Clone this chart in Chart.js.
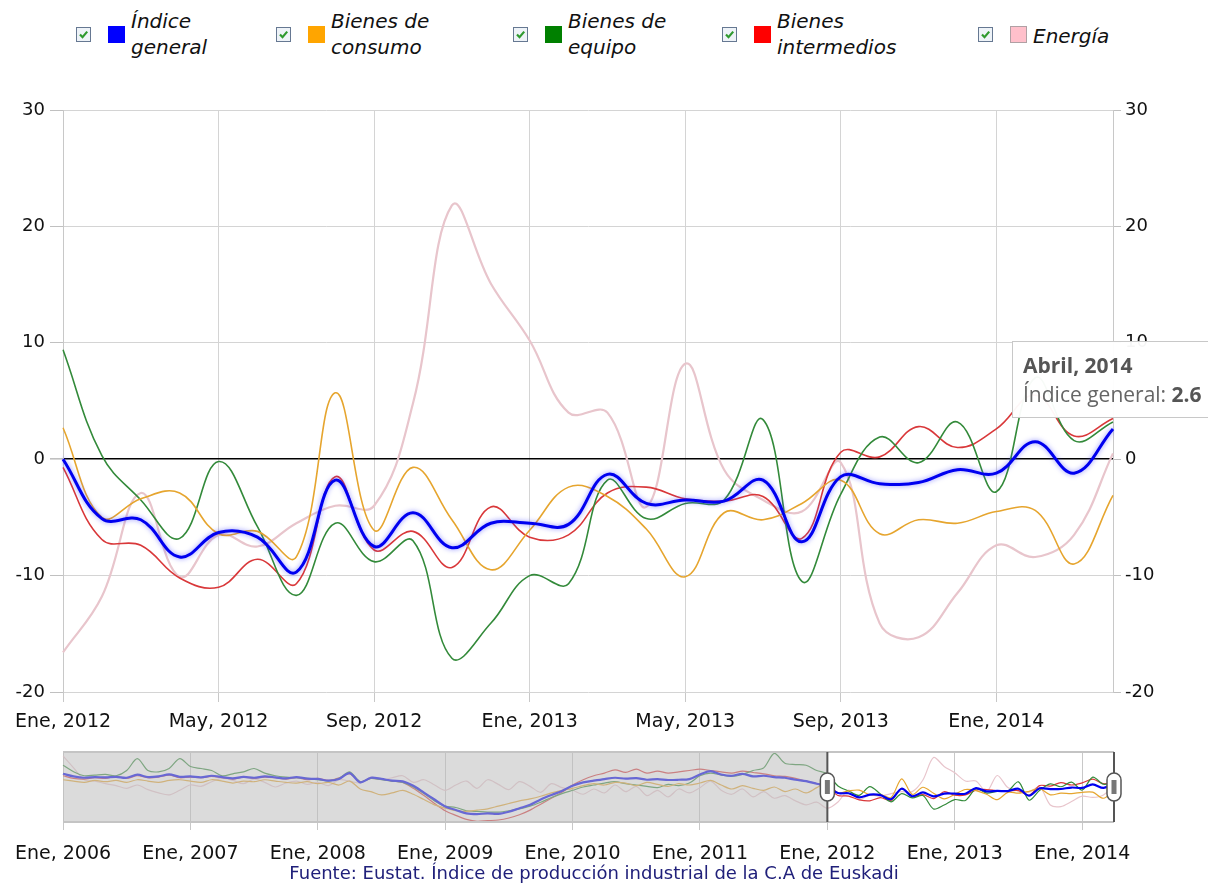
<!DOCTYPE html>
<html>
<head>
<meta charset="utf-8">
<script src="https://cdn.jsdelivr.net/npm/chart.js@4.4.1/dist/chart.umd.min.js"></script>
<style>
body { margin: 0; background: #fff; width: 1208px; height: 894px; overflow: hidden; position: relative; font-family: "DejaVu Sans", sans-serif; }
.item { position: absolute; top: 0; }
.chk { position: absolute; top: 27px; left: 0; width: 13px; height: 13px; border: 1px solid #667892; background: #eef3f8; }
.chk svg { position: absolute; left: 1px; top: 1px; }
.sq { position: absolute; top: 26px; width: 17px; height: 17px; box-sizing: border-box; }
.lbl { position: absolute; top: 8px; font-style: italic; font-size: 20px; line-height: 26px; color: #111; white-space: pre; }
#main { position: absolute; left: 0; top: 90px; }
#nav { position: absolute; left: 0; top: 740px; }
#fuente { position: absolute; left: 0; width: 1188px; top: 862px; text-align: center; font-size: 18px; color: #20207a; }
#tip { position: absolute; display: none; background: rgba(255,255,255,0.96); border: 1px solid #c8c8c8;
       padding: 9px 30px 8px 10px; font-family: "Open Sans", sans-serif; font-size: 21px; line-height: 29px;
       color: #666; white-space: nowrap; }
#tip b { color: #555; }
</style>
</head>
<body>
<div id="legend"></div>
<canvas id="main" width="1208" height="650"></canvas>
<canvas id="nav" width="1208" height="130"></canvas>
<div id="fuente">Fuente: Eustat. Índice de producción industrial de la C.A de Euskadi</div>
<div id="tip"></div>
<script>
// meses
const mesCorto = ['Ene', 'Feb', 'Mar', 'Abr', 'May', 'Jun', 'Jul', 'Ago', 'Sep', 'Oct', 'Nov', 'Dic'];
const mesLargo = ['Enero', 'Febrero', 'Marzo', 'Abril', 'Mayo', 'Junio', 'Julio', 'Agosto', 'Septiembre', 'Octubre', 'Noviembre', 'Diciembre'];

const seriesNames = ['Índice general', 'Bienes de consumo', 'Bienes de equipo', 'Bienes intermedios', 'Energía'];
const legendText = ['Índice\ngeneral', 'Bienes de\nconsumo', 'Bienes de\nequipo', 'Bienes\nintermedios', 'Energía'];
const legendColors = ['#0000ff', '#ffa500', '#008000', '#ff0000', '#ffc0cb'];
const lineColors = ['#0000f0', '#e6a52e', '#338a3a', '#d9383a', '#e8c5cc'];

// Ene 2012 - Abr 2014 (grafico principal)
const general     = [0, -5.1, -5.2, -8.4, -6.3, -6.7, -9.7, -1.8, -7.5, -4.6, -7.6, -5.5, -5.5, -5.6, -1.3, -3.8, -3.5, -3.6, -1.8, -7.1, -1.5, -2.1, -2.0, -0.9, -1.2, 1.5, -1.2, 2.6];
const consumo     = [2.7, -5.0, -3.4, -2.9, -6.4, -6.2, -8.4, 5.7, -6.1, -0.7, -5.2, -9.5, -6.1, -2.4, -3.2, -6.0, -10.1, -4.6, -5.2, -3.8, -1.8, -6.4, -5.2, -5.5, -4.5, -4.4, -9.0, -3.1];
const equipo      = [9.4, 0.3, -3.5, -6.8, -0.2, -5.8, -11.7, -5.5, -8.8, -7.0, -17.1, -14.1, -10.0, -10.7, -1.8, -5.1, -3.8, -3.5, 3.4, -10.5, -3.0, 1.9, -0.3, 3.2, -2.8, 7.0, 1.6, 3.2];
const intermedios = [-0.7, -6.9, -7.4, -10.2, -11.0, -8.6, -10.7, -1.5, -7.8, -6.2, -9.3, -4.1, -6.7, -6.5, -2.9, -2.4, -3.4, -3.6, -3.2, -6.8, 0.6, 0.2, 2.8, 1.0, 2.6, 5.5, 2.0, 3.5];
const energia     = [-16.6, -11.8, -2.9, -10.1, -6.5, -7.5, -5.5, -4.0, -4.0, 4.8, 21.8, 15.1, 10.2, 4.0, 4.0, -4.1, 8.2, -0.9, -3.5, -4.5, -0.3, -14.1, -15.3, -11.5, -7.4, -8.4, -6.5, 0.5];

// Ene 2006 - Dic 2011 (solo navegador)
const histGeneral = [
  9.5, 7.5, 6.5, 7.0, 6.8, 7.2, 6.5, 8.8, 7.0, 7.5, 9.0, 7.2,
  7.5, 6.8, 8.0, 7.0, 6.0, 7.2, 6.5, 7.5, 6.8, 6.0, 7.0, 5.8,
  5.6, 4.3, 5.6, 10.0, 3.0, 6.5, 5.6, 4.3, 3.8, 0.4, -4.8, -10.0,
  -15.3, -17.9, -20.5, -21.0, -20.5, -20.8, -19.2, -16.6, -14.0, -10.0, -6.6, -3.5,
  0.4, 3.0, 4.3, 5.5, 6.5, 5.8, 6.2, 5.0, 5.5, 4.8, 5.0, 5.5,
  9.0, 11.5, 9.0, 8.0, 9.5, 7.5, 8.0, 7.0, 6.5, 5.0, 4.0, 2.0];
const histConsumo = [
  5.0, 4.0, 3.0, 4.5, 3.5, 4.5, 3.0, 5.0, 4.0, 3.0, 4.5, 5.0,
  4.0, 3.0, 5.0, 4.0, 2.5, 4.0, 3.5, 5.0, 4.0, 3.0, 2.5, 3.5,
  2.0, 3.0, 1.0, 4.0, -2.0, -4.0, -6.5, -5.0, -3.0, -6.0, -10.0, -14.0,
  -16.5, -18.5, -19.0, -18.0, -17.0, -15.0, -13.0, -11.0, -9.5, -7.5, -5.0, -3.0,
  -1.5, 0.5, 2.0, 1.0, 3.0, 2.5, 0.5, 3.0, 1.5, 0.0, 2.0, 1.0,
  2.5, 4.5, 1.0, -2.0, 0.5, -1.5, -3.0, -0.5, -4.0, -2.0, -5.0, -1.0];
const histEquipo = [
  16.0, 11.0, 8.0, 8.5, 9.0, 8.0, 12.0, 21.0, 12.0, 11.0, 13.5, 21.0,
  15.0, 13.5, 12.0, 8.0, 9.5, 11.0, 13.5, 10.0, 8.0, 7.0, 6.5, 6.0,
  5.0, 4.0, 6.0, 11.0, 3.5, 6.0, 5.0, 4.0, 3.0, -0.5, -5.5, -11.0,
  -15.0, -16.0, -18.5, -19.0, -19.5, -19.5, -18.5, -17.0, -15.0, -12.0, -8.5, -5.5,
  -3.0, -0.5, 1.0, 2.5, 3.5, 2.0, 1.0, 0.0, -1.0, 1.5, 0.5, 2.5,
  8.0, 10.0, 8.5, 7.5, 9.0, 12.0, 14.0, 25.0, 17.5, 16.5, 16.0, 12.0];
const histIntermedios = [
  8.0, 6.0, 5.5, 6.5, 6.0, 7.5, 6.0, 8.0, 6.5, 7.0, 8.5, 6.5,
  7.0, 6.5, 7.5, 6.5, 5.5, 7.0, 6.0, 7.0, 6.5, 5.5, 6.5, 5.0,
  6.0, 4.5, 6.5, 9.5, 3.5, 6.0, 5.5, 4.0, 3.0, -1.5, -7.0, -13.0,
  -18.5, -22.0, -25.0, -26.5, -26.0, -25.5, -24.0, -21.5, -18.0, -13.5, -9.0, -4.5,
  1.0, 5.0, 8.0, 10.0, 12.5, 10.5, 13.0, 10.0, 11.5, 10.0, 11.0, 12.0,
  13.0, 12.0, 11.0, 10.0, 11.5, 10.5, 9.5, 8.0, 7.5, 6.0, 4.0, 2.0];
const histEnergia = [
  23.0, 14.0, 5.0, 4.0, 2.0, 0.5, -1.5, 1.0, -2.5, -5.0, -6.5, -3.0,
  1.0, 0.0, 3.5, 6.0, 4.5, 2.0, 5.5, 3.0, -0.5, 2.5, 4.0, 1.5,
  3.0, 0.5, 5.0, 4.0, 2.5, 7.0, 5.0, 6.5, 8.0, 3.0, 5.0, 1.0,
  -3.0, 1.0, 4.0, -1.5, 5.0, 1.5, -2.5, 3.5, 0.0, -4.5, 2.0, -1.0,
  -3.0, -6.0, -2.0, -5.0, 1.0, -4.0, 0.0, -7.0, -3.0, -8.0, -2.0, -5.0,
  -1.0, 4.0, -3.0, -6.0, -2.0, -8.0, -4.0, -9.0, -7.0, -11.0, -14.0, -12.0];

const mainSeries = [general, consumo, equipo, intermedios, energia];
const histSeries = [histGeneral, histConsumo, histEquipo, histIntermedios, histEnergia];

function monthLabels(y0, m0, n) {
  const out = [];
  for (let i = 0; i < n; i++) {
    const m = (m0 + i) % 12, y = y0 + Math.floor((m0 + i) / 12);
    out.push({short: mesCorto[m] + ', ' + y, long: mesLargo[m] + ', ' + y});
  }
  return out;
}
const mainMonths = monthLabels(2012, 0, general.length);
const navMonths = monthLabels(2006, 0, histGeneral.length + general.length);

// leyenda html con casillas
const legendLeft = [76, 276, 513, 722, 978];
const legend = document.getElementById('legend');
seriesNames.forEach(function (name, i) {
  const it = document.createElement('div');
  it.className = 'item';
  it.style.left = legendLeft[i] + 'px';
  const sqBorder = i === 4 ? 'border:1px solid #b0a0a4;' : '';
  const lblTop = legendText[i].indexOf('\n') < 0 ? 'top:23px;' : '';
  it.innerHTML =
    '<div class="chk"><svg width="11" height="11" viewBox="0 0 11 11"><path d="M2 5.6 L4.5 8.2 L9.2 2.6" stroke="#2f9a2f" stroke-width="2.2" fill="none"/></svg></div>' +
    '<div class="sq" style="left:32px;background:' + legendColors[i] + ';' + sqBorder + '"></div>' +
    '<div class="lbl" style="left:55px;' + lblTop + '">' + legendText[i] + '</div>';
  legend.appendChild(it);
});

Chart.defaults.font.family = '"DejaVu Sans", sans-serif';
Chart.defaults.color = '#111';

const glow = {
  id: 'glow',
  beforeDatasetDraw(chart, args) {
    if (args.index !== 0) return;
    const c = chart.ctx;
    c.save();
    c.shadowColor = 'rgba(70,70,255,0.6)';
    c.shadowBlur = 5;
  },
  afterDatasetDraw(chart, args) {
    if (args.index === 0) chart.ctx.restore();
  }
};

function externalTip(context) {
  const chart = context.chart, tooltip = context.tooltip;
  const el = document.getElementById('tip');
  if (!tooltip.dataPoints || !tooltip.dataPoints.length) { el.style.display = 'none'; return; }
  const dp = tooltip.dataPoints[0];
  el.innerHTML = '<b>' + mainMonths[dp.dataIndex].long + '</b><br>' + dp.dataset.label + ': <b>' + dp.raw + '</b>';
  el.style.display = 'block';
  el.style.left = (chart.canvas.offsetLeft + tooltip.caretX - 101) + 'px';
  el.style.top = (chart.canvas.offsetTop + tooltip.caretY - 88) + 'px';
}

const mainChart = new Chart(document.getElementById('main'), {
  type: 'line',
  data: {
    labels: mainMonths.map(m => m.short),
    datasets: mainSeries.map((d, i) => ({
      label: seriesNames[i],
      data: d,
      borderColor: lineColors[i],
      borderWidth: i === 0 ? 3 : (i === 4 ? 2.2 : 1.6),
      pointRadius: 0,
      pointHoverRadius: 0,
      tension: 0.4
    }))
  },
  options: {
    responsive: false,
    animation: false,
    events: [],
    layout: { padding: { top: 20 } },
    plugins: {
      legend: { display: false },
      tooltip: { enabled: false, external: externalTip }
    },
    scales: {
      x: {
        border: { display: false },
        grid: {
          color: c => c.index % 4 === 0 ? '#d4d4d4' : 'rgba(0,0,0,0)',
          tickColor: c => c.index % 4 === 0 ? '#c8c8c8' : 'rgba(0,0,0,0)',
          tickLength: 10
        },
        ticks: {
          autoSkip: false, maxRotation: 0, padding: 9, font: { size: 19 },
          callback: (v, i) => i % 4 === 0 ? mainMonths[i].short : ''
        },
        afterFit(s) { s.height = 48; }
      },
      y: {
        position: 'left', min: -20, max: 30,
        border: { color: '#c8c8c8' },
        grid: {
          color: c => c.tick.value === 0 ? '#000' : '#d4d4d4',
          lineWidth: c => c.tick.value === 0 ? 1.6 : 1,
          tickColor: '#c0c0c0', tickLength: 13
        },
        ticks: { stepSize: 10, padding: 5, font: { size: 18 } },
        afterFit(s) { s.width = 63; }
      },
      y2: {
        position: 'right', min: -20, max: 30,
        border: { color: '#c8c8c8' },
        grid: { drawOnChartArea: false, tickColor: '#c0c0c0', tickLength: 8 },
        ticks: { stepSize: 10, padding: 4, font: { size: 18 } },
        afterFit(s) { s.width = 95; }
      }
    }
  },
  plugins: [glow]
});

mainChart.tooltip.setActiveElements([{ datasetIndex: 0, index: general.length - 1 }], { x: 0, y: 0 });
mainChart.update();

// navegador
const selStart = histGeneral.length;
const selEnd = histGeneral.length + general.length - 1;

const navBand = {
  id: 'navBand',
  afterDatasetsDraw(chart) {
    const ctx = chart.ctx, a = chart.chartArea, x = chart.scales.x;
    const x0 = x.getPixelForValue(selStart), x1 = x.getPixelForValue(selEnd);
    const yc = (a.top + a.bottom) / 2;
    ctx.save();
    ctx.fillStyle = 'rgba(190,190,190,0.55)';
    ctx.fillRect(a.left, a.top, x0 - a.left, a.bottom - a.top);
    ctx.strokeStyle = '#c4c4c4';
    ctx.lineWidth = 2;
    ctx.beginPath();
    ctx.moveTo(a.left, a.top); ctx.lineTo(a.right, a.top);
    ctx.moveTo(a.left, a.bottom); ctx.lineTo(a.right, a.bottom);
    ctx.stroke();
    ctx.strokeStyle = '#555';
    ctx.beginPath();
    ctx.moveTo(x0, a.top); ctx.lineTo(x0, a.bottom);
    ctx.moveTo(x1, a.top); ctx.lineTo(x1, a.bottom);
    ctx.stroke();
    [x0, x1].forEach(function (hx) {
      ctx.beginPath();
      ctx.roundRect(hx - 7, yc - 14, 14, 28, 7);
      ctx.fillStyle = '#fff';
      ctx.fill();
      ctx.lineWidth = 1.5;
      ctx.strokeStyle = '#555';
      ctx.stroke();
      ctx.fillStyle = '#777';
      ctx.fillRect(hx - 2.5, yc - 7, 5, 14);
    });
    ctx.restore();
  }
};

new Chart(document.getElementById('nav'), {
  type: 'line',
  data: {
    labels: navMonths.map(m => m.short),
    datasets: histSeries.map((h, i) => ({
      label: seriesNames[i],
      data: h.concat(mainSeries[i]),
      borderColor: lineColors[i],
      borderWidth: i === 0 ? 2.2 : 1.2,
      pointRadius: 0,
      tension: 0.3
    }))
  },
  options: {
    responsive: false,
    animation: false,
    events: [],
    layout: { padding: { top: 12, left: 63, right: 94 } },
    plugins: { legend: { display: false }, tooltip: { enabled: false } },
    scales: {
      x: {
        border: { display: false },
        grid: {
          color: c => c.index % 12 === 0 ? '#c8c8c8' : 'rgba(0,0,0,0)',
          tickColor: c => c.index % 12 === 0 ? '#c8c8c8' : 'rgba(0,0,0,0)',
          tickLength: 8
        },
        ticks: {
          autoSkip: false, maxRotation: 0, padding: 13, font: { size: 19 },
          callback: (v, i) => i % 12 === 0 ? navMonths[i].short : ''
        },
        afterFit(s) { s.height = 48; }
      },
      y: { display: false, min: -27, max: 26 }
    }
  },
  plugins: [navBand]
});
</script>
</body>
</html>
